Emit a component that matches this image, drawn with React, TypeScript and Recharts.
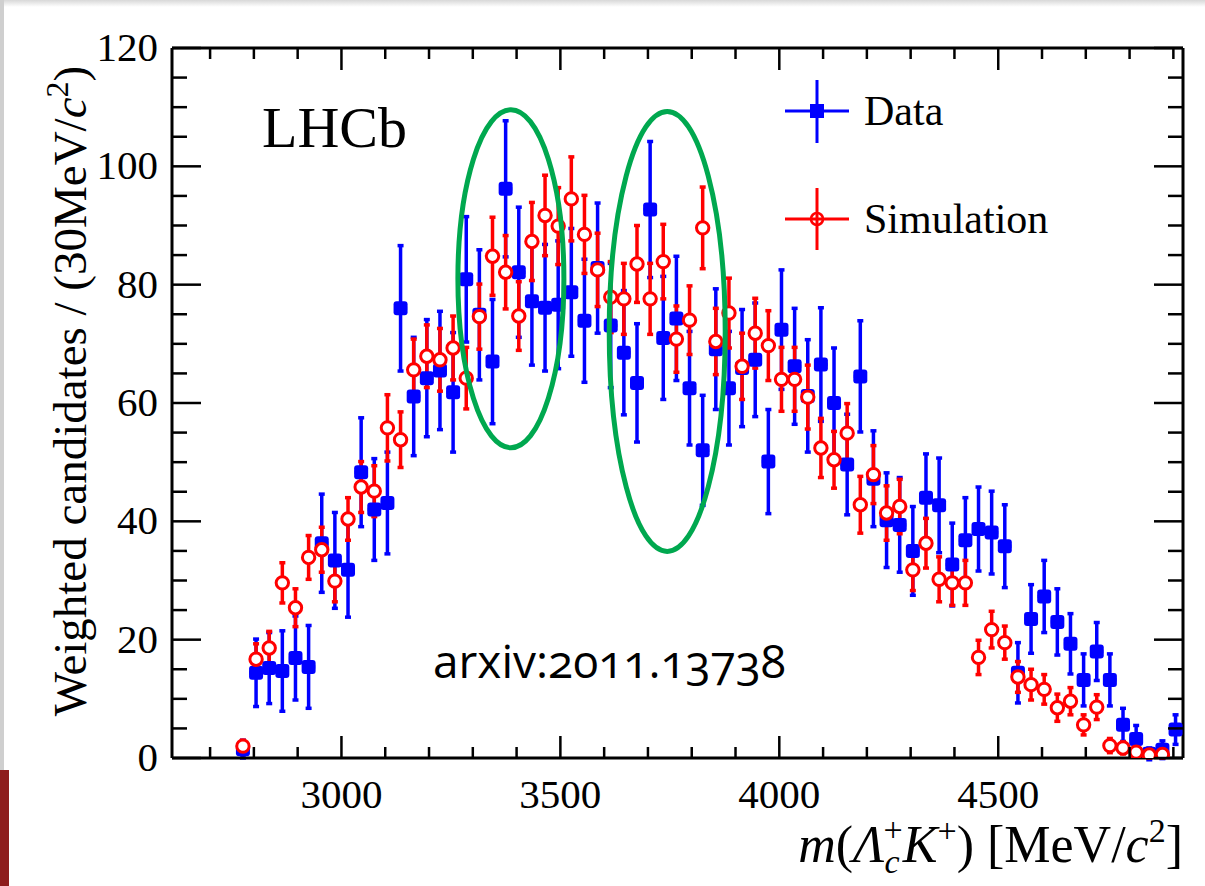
import { ScatterChart, Scatter, XAxis, YAxis, ErrorBar, ReferenceDot, Legend } from "recharts";

const SERIF = "'Liberation Serif', 'Times New Roman', serif";

// bin centres, 30 MeV bins
const MASS = [
  2775, 2805, 2835, 2865, 2895, 2925, 2955, 2985, 3015, 3045, 3075, 3105,
  3135, 3165, 3195, 3225, 3255, 3285, 3315, 3345, 3375, 3405, 3435, 3465,
  3495, 3525, 3555, 3585, 3615, 3645, 3675, 3705, 3735, 3765, 3795, 3825,
  3855, 3885, 3915, 3945, 3975, 4005, 4035, 4065, 4095, 4125, 4155, 4185,
  4215, 4245, 4275, 4305, 4335, 4365, 4395, 4425, 4455, 4485, 4515, 4545,
  4575, 4605, 4635, 4665, 4695, 4725, 4755, 4785, 4815, 4845, 4875, 4905,
];

const DATA_Y = [
  1.5, 14.4, 15.2, 14.7, 16.9, 15.4, 36.3, 33.4, 31.8, 48.3, 42.0, 43.1,
  76.0, 61.1, 64.2, 65.5, 61.8, 80.9, 74.9, 67.0, 96.2, 82.1, 77.2, 76.1,
  76.6, 78.7, 73.9, 82.8, 73.1, 68.5, 63.4, 92.7, 71.0, 74.3, 62.5, 52.0,
  69.1, 62.5, 65.9, 67.3, 50.1, 72.4, 66.2, 61.2, 66.5, 60.0, 49.6, 64.5,
  47.2, 40.2, 39.4, 35.0, 44.0, 42.7, 32.7, 36.8, 38.7, 38.1, 35.8, 14.4,
  23.5, 27.3, 23.0, 19.3, 13.2, 18.0, 13.2, 5.6, 3.2, 0.7, 1.4, 4.8,
];

const DATA_ERR = [
  1.5, 5.7, 6.0, 6.8, 7.1, 7.0, 8.3, 8.1, 8.0, 9.2, 8.6, 8.6,
  10.6, 10.0, 9.9, 10.0, 10.1, 10.6, 11.0, 10.5, 11.5, 11.0, 10.8, 10.7,
  10.8, 10.8, 10.4, 11.0, 10.5, 10.5, 10.0, 11.5, 10.4, 10.5, 9.6, 9.3,
  10.2, 9.6, 9.9, 9.6, 8.8, 10.1, 9.8, 9.5, 9.6, 9.3, 8.5, 9.4,
  8.1, 8.0, 8.0, 7.5, 7.4, 8.0, 7.0, 7.2, 7.1, 7.0, 7.0, 5.1,
  5.8, 6.1, 5.6, 5.1, 4.4, 4.9, 4.4, 2.8, 2.3, 1.0, 1.5, 2.5,
];

const SIM_Y = [
  2.0, 16.7, 18.6, 29.6, 25.4, 33.9, 35.2, 29.9, 40.4, 45.8, 45.1, 55.8,
  53.8, 65.6, 67.9, 67.3, 69.3, 64.2, 74.6, 84.8, 82.1, 74.7, 87.3, 91.7,
  89.9, 94.5, 88.5, 82.5, 77.9, 77.6, 83.5, 77.6, 83.9, 70.8, 74.0, 89.6,
  70.4, 75.2, 66.2, 71.8, 69.7, 64.0, 64.0, 61.0, 52.4, 50.4, 54.9, 42.8,
  47.9, 41.4, 42.5, 31.8, 36.3, 30.2, 29.6, 29.6, 17.0, 21.7, 19.5, 13.7,
  12.4, 11.6, 8.5, 9.6, 5.6, 8.6, 2.1, 1.7, 1.0, 0.5, 0.6, null,
];

const SIM_ERR = [
  1.0, 2.6, 2.8, 3.4, 3.2, 3.7, 3.8, 3.5, 3.6, 4.3, 4.3, 5.6,
  4.7, 5.2, 5.3, 5.3, 5.4, 5.2, 5.5, 6.6, 6.2, 5.8, 6.6, 6.8,
  6.5, 7.1, 6.6, 6.2, 6.0, 6.0, 6.5, 6.0, 6.3, 5.6, 5.8, 6.9,
  5.6, 5.9, 5.6, 5.9, 5.9, 5.4, 5.4, 5.4, 5.0, 4.8, 5.0, 4.8,
  4.9, 4.6, 4.6, 3.5, 4.2, 3.8, 3.8, 3.8, 2.9, 3.1, 2.8, 2.6,
  2.6, 2.5, 2.3, 2.3, 1.7, 2.1, 1.2, 1.0, 0.8, 0.5, 0.6, 0,
];

const HALF_BIN = 15;
const X_DOMAIN = [2613, 4922];
const X_TICKS = [2700, 2800, 2900, 3000, 3100, 3200, 3300, 3400, 3500, 3600, 3700, 3800, 3900, 4000, 4100, 4200, 4300, 4400, 4500, 4600, 4700, 4800, 4900];
const Y_TICKS = [0, 5, 10, 15, 20, 25, 30, 35, 40, 45, 50, 55, 60, 65, 70, 75, 80, 85, 90, 95, 100, 105, 110, 115, 120];

const dataPts = MASS.map((m, i) => ({ m, v: DATA_Y[i], e: DATA_ERR[i], ex: HALF_BIN }));
const simPts = MASS.map((m, i) => ({ m, v: SIM_Y[i], e: SIM_ERR[i], ex: HALF_BIN })).filter((p) => p.v != null);

const BLUE = "#0000ff";
const RED = "#ff0000";
const GREEN = "#00a84f";

const SquareMark = (p: any) => (
  <rect x={p.cx - 7} y={p.cy - 7} width={14} height={14} rx={3} fill={BLUE} />
);
const CircleMark = (p: any) => (
  <circle cx={p.cx} cy={p.cy} r={6.2} fill="#fff" stroke={RED} strokeWidth={3} />
);

const BottomTick = ({ x, y, payload }: any) => {
  const major = payload.value % 500 === 0;
  return (
    <g>
      <line x1={x} x2={x} y1={y} y2={y - (major ? 22 : 11)} stroke="#000" strokeWidth={2.5} />
      {major && (
        <text x={x} y={y + 50} textAnchor="middle" fontSize={41} fontFamily={SERIF} fill="#000">
          {payload.value}
        </text>
      )}
    </g>
  );
};
const TopTick = ({ x, y, payload }: any) => {
  const major = payload.value % 500 === 0;
  return <line x1={x} x2={x} y1={y} y2={y + (major ? 22 : 11)} stroke="#000" strokeWidth={2.5} />;
};
const LeftTick = ({ x, y, payload }: any) => {
  const major = payload.value % 20 === 0;
  return (
    <g>
      <line x1={x} x2={x + (major ? 29 : 15)} y1={y} y2={y} stroke="#000" strokeWidth={2.5} />
      {major && (
        <text x={x - 14} y={y + 13} textAnchor="end" fontSize={41} fontFamily={SERIF} fill="#000">
          {payload.value}
        </text>
      )}
    </g>
  );
};
const RightTick = ({ x, y, payload }: any) => {
  const major = payload.value % 20 === 0;
  return <line x1={x} x2={x - (major ? 29 : 15)} y1={y} y2={y} stroke="#000" strokeWidth={2.5} />;
};

const XTitle = ({ viewBox }: any) => (
  <text x={viewBox.x + viewBox.width} y={viewBox.y + 104} textAnchor="end" fontSize={52} fontFamily={SERIF} fill="#000">
    <tspan fontStyle="italic">m</tspan>(<tspan fontStyle="italic">Λ</tspan>
    <tspan fontSize={34} fontStyle="italic" dy={11}>c</tspan>
    <tspan fontSize={34} dx={-16} dy={-32}>+</tspan>
    <tspan fontStyle="italic" dy={21}>K</tspan>
    <tspan fontSize={34} dy={-20}>+</tspan>
    <tspan dy={20}>) [MeV/</tspan>
    <tspan fontStyle="italic">c</tspan>
    <tspan fontSize={34} dy={-20}>2</tspan>
    <tspan dy={20}>]</tspan>
  </text>
);

const YTitle = ({ viewBox }: any) => {
  const cx = viewBox.x + 86;
  const cy = viewBox.y + 343;
  return (
    <text x={cx} y={cy} transform={`rotate(-90 ${cx} ${cy})`} textAnchor="middle" fontSize={47} fontFamily={SERIF} fill="#000">
      Weighted candidates / (30MeV/<tspan fontStyle="italic">c</tspan>
      <tspan fontSize={32} dy={-18}>2</tspan>
      <tspan dy={18}>)</tspan>
    </text>
  );
};

const LegendBox = () => (
  <svg width={420} height={200} style={{ overflow: "visible" }}>
    <line x1={15} x2={79} y1={41} y2={41} stroke={BLUE} strokeWidth={3} />
    <line x1={47} x2={47} y1={10} y2={73} stroke={BLUE} strokeWidth={3} />
    <rect x={40} y={34} width={14} height={14} fill={BLUE} />
    <text x={94} y={55} fontSize={42} fontFamily={SERIF} fill="#000">Data</text>
    <line x1={15} x2={79} y1={149} y2={149} stroke={RED} strokeWidth={3} />
    <line x1={47} x2={47} y1={118} y2={180} stroke={RED} strokeWidth={3} />
    <circle cx={47} cy={149} r={6} fill="none" stroke={RED} strokeWidth={2.6} />
    <text x={94} y={163} fontSize={42} fontFamily={SERIF} fill="#000">Simulation</text>
  </svg>
);

const ellipseShape = (rx: number, ry: number) => (p: any) => (
  <ellipse cx={p.cx} cy={p.cy} rx={rx} ry={ry} fill="none" stroke={GREEN} strokeWidth={5} />
);

export default function App() {
  return (
    <div style={{ position: "absolute", left: 0, top: 0, width: 1205, height: 886, background: "#fff", overflow: "hidden" }}>
      <div style={{ position: "absolute", left: 0, top: 0, width: 1205, height: 7, background: "linear-gradient(#d8d8d8, #fff)" }} />
      <div style={{ position: "absolute", left: 0, top: 0, width: 4, height: 770, background: "#cfcfcf" }} />
      <div style={{ position: "absolute", left: 0, top: 770, width: 9, height: 116, background: "#8e1c1c" }} />
      <ScatterChart width={1205} height={886} margin={{ top: 47, right: 21, bottom: 0, left: 0 }}>
        <XAxis
          xAxisId="b"
          type="number"
          dataKey="m"
          domain={X_DOMAIN}
          allowDataOverflow
          ticks={X_TICKS}
          interval={0}
          height={128}
          tickSize={0}
          tickMargin={0}
          tick={<BottomTick />}
          axisLine={{ stroke: "#000", strokeWidth: 3 }}
          label={<XTitle />}
        />
        <XAxis
          xAxisId="t"
          orientation="top"
          type="number"
          dataKey="m"
          domain={X_DOMAIN}
          allowDataOverflow
          ticks={X_TICKS}
          interval={0}
          height={1}
          tickSize={0}
          tickMargin={0}
          tick={<TopTick />}
          axisLine={{ stroke: "#000", strokeWidth: 3 }}
        />
        <YAxis
          yAxisId="l"
          type="number"
          dataKey="v"
          domain={[0, 120]}
          allowDataOverflow
          ticks={Y_TICKS}
          interval={0}
          width={172}
          tickSize={0}
          tickMargin={0}
          tick={<LeftTick />}
          axisLine={{ stroke: "#000", strokeWidth: 3 }}
          label={<YTitle />}
        />
        <YAxis
          yAxisId="r"
          orientation="right"
          type="number"
          dataKey="v"
          domain={[0, 120]}
          allowDataOverflow
          ticks={Y_TICKS}
          interval={0}
          width={1}
          tickSize={0}
          tickMargin={0}
          tick={<RightTick />}
          axisLine={{ stroke: "#000", strokeWidth: 3 }}
        />
        <Legend
          layout="horizontal"
          verticalAlign="middle"
          align="center"
          wrapperStyle={{ left: 770, top: 70, width: 420, height: 200 }}
          content={<LegendBox />}
        />
        <Scatter name="Data" data={dataPts} xAxisId="b" yAxisId="l" shape={SquareMark} fill={BLUE} isAnimationActive={false}>
          <ErrorBar dataKey="e" direction="y" width={3} stroke={BLUE} strokeWidth={3.5} />
          <ErrorBar dataKey="ex" direction="x" width={0} stroke={BLUE} strokeWidth={3.5} />
        </Scatter>
        <Scatter name="Simulation" data={simPts} xAxisId="t" yAxisId="r" shape={CircleMark} fill={RED} isAnimationActive={false}>
          <ErrorBar dataKey="e" direction="y" width={3} stroke={RED} strokeWidth={3.5} />
          <ErrorBar dataKey="ex" direction="x" width={0} stroke={RED} strokeWidth={3.5} />
        </Scatter>
        <ReferenceDot xAxisId="b" yAxisId="l" x={3387} y={81} r={0} ifOverflow="visible" shape={ellipseShape(53, 169)} />
        <ReferenceDot xAxisId="b" yAxisId="l" x={3744} y={72.1} r={0} ifOverflow="visible" shape={ellipseShape(58, 220)} />
      </ScatterChart>
      <div style={{ position: "absolute", left: 262, top: 98, fontFamily: SERIF, fontSize: 58, lineHeight: "60px", color: "#000" }}>LHCb</div>
      <div
        style={{
          position: "absolute",
          left: 433,
          top: 630,
          fontFamily: "'Open Sans', 'Noto Sans', sans-serif",
          fontSize: 46,
          lineHeight: "60px",
          fontVariantNumeric: "oldstyle-nums",
          color: "#000",
        }}
      >
        arxiv:2011.13738
      </div>
    </div>
  );
}
